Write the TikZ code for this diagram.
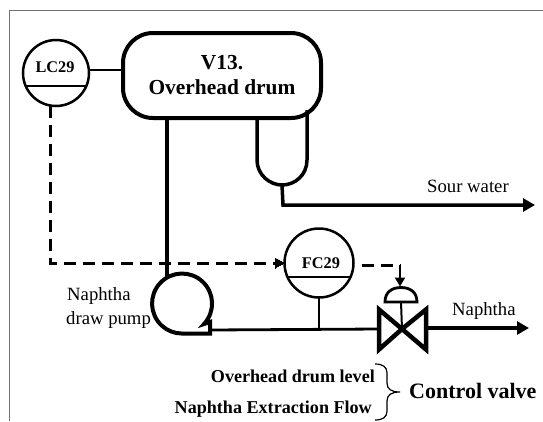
\documentclass[tikz,border=0pt]{standalone}
\usepackage{fontspec}
\setmainfont{Liberation Serif}
\usetikzlibrary{arrows.meta,calc}
\tikzset{
  x=1pt,y=-1pt,
  pipe/.style={line width=3.5pt,draw=black},
  thinpipe/.style={line width=2.8pt,draw=black},
  signal/.style={line width=3pt,draw=black,dash pattern=on 12pt off 7pt},
  flowarrow/.style={-{Triangle[length=12pt,width=13pt]}},
  sigarrow/.style={-{Triangle[length=9pt,width=10pt]}},
  instrument/.style={circle,draw=black,line width=2.5pt,inner sep=0pt,outer sep=0pt,minimum size=#1},
  vessel/.style={rectangle,draw=black,line width=4pt,rounded corners=30pt,inner sep=0pt,outer sep=0pt,minimum width=198pt,minimum height=85pt,align=center,font=\bfseries\fontsize{21.4}{25}\selectfont},
  taglabel/.style={font=\bfseries\fontsize{16.3}{16}\selectfont,inner sep=0pt},
  plain/.style={font=\fontsize{18.7}{19}\selectfont,inner sep=0pt},
  note/.style={font=\bfseries\fontsize{18.1}{18}\selectfont,inner sep=0pt},
}
\begin{document}
\begin{tikzpicture}
\useasboundingbox (0,0) rectangle (543,421);
% frame
\draw[line width=1pt,draw=black!55] (9.5,421) -- (9.5,10.5) -- (543,10.5);
% drum
\node[vessel] (drum) at (222,75.5) {V13.\\Overhead drum};
% boot
\coordinate (bootL) at (257,118);
\coordinate (bootR) at (307,110);
\coordinate (bootB) at (282,185);
\draw[pipe] (bootL) -- (257,160) .. controls (257,175) and (270,185) .. (bootB)
  .. controls (295,185) and (307,175) .. (307,160) -- (bootR);
% instruments
\node[instrument=66pt] (lc) at (56,73) {};
\node[taglabel] (lct) at (55,67) {LC29};
\draw[line width=1.6pt] (lc.203) -- (lc.-23);
\node[instrument=69pt] (fc) at (319,263) {};
\node[taglabel] (fct) at (321,263) {FC29};
\draw[line width=1.6pt] (fc.204) -- (fc.-24);
\draw[line width=1.6pt] (lc.east |- 0,70) -- (drum.west |- 0,70);
% pump
\coordinate (pumpOut) at (210,330);
\coordinate (pumpTop) at (167,276);
\draw[line width=4pt,line join=miter]
  (204,324) arc[start angle=-43,end angle=270,radius=30pt] -- (210,333.5) -- (210,322) -- cycle;
% valve
\coordinate (vc) at (402,329);
\draw[line width=4.5pt,line join=miter] (vc) -- (379,309.5) -- (379,349.5) -- (vc) -- (426,309.5) -- (426,349.5) -- cycle;
\coordinate (actB) at (401,302);
\draw[line width=2pt] (vc) -- (actB);
\draw[line width=2.8pt] (385,302) -- (417,302) .. controls (417,292) and (410,287.5) .. (401,287.5) .. controls (392,287.5) and (385,292) .. (385,302) -- cycle;
\coordinate (actT) at (401,286.5);
% pipes
\draw[pipe] (drum.south -| pumpTop) -- (pumpTop);
\draw[pipe,flowarrow] (bootB) -- (283,205) -- (535,205);
\draw[thinpipe] (pumpOut) -- (vc -| 379,0);
\draw[thinpipe] (fc.south) -- (fc.south |- vc);
\draw[pipe,flowarrow] (426,328) -- (529,328);
% signals
\draw[signal] (lc.-99) -- (lc.-99 |- fc.west) -- ($(fc.west)+(-9,0)$);
\draw[black,line width=0pt,fill=black] (275,258) -- (284.5,263) -- (275,268) -- cycle;
\draw[signal] ($(fc.east)+(8,2)$) -- (400,265);
\draw[line width=2pt,sigarrow] (400,265) -- (actT -| 400,0);
% labels
\node[plain,anchor=west] (sw) at (427,186) {Sour water};
\node[plain,anchor=west] (na) at (452,311) {Naphtha};
\node[plain,anchor=west] (dp1) at (67,296) {Naphtha};
\node[plain,anchor=west] (dp2) at (66,320) {draw pump};
\node[note,anchor=east] (n1) at (375,376) {Overhead drum level};
\node[note,anchor=east] (n2) at (372,409) {Naphtha Extraction Flow};
\node[font=\bfseries\fontsize{22}{22}\selectfont,inner sep=0pt,anchor=west] (cv) at (409,391) {Control valve};
% brace
\draw[line width=1.2pt] (375,364) .. controls (383,364) and (387,367) .. (387,373) -- (387,383)
  .. controls (387,389) and (391,392) .. (400,392) .. controls (391,392) and (387,395) .. (387,401) -- (387,411)
  .. controls (387,417) and (383,420) .. (375,420);
\end{tikzpicture}
\end{document}
